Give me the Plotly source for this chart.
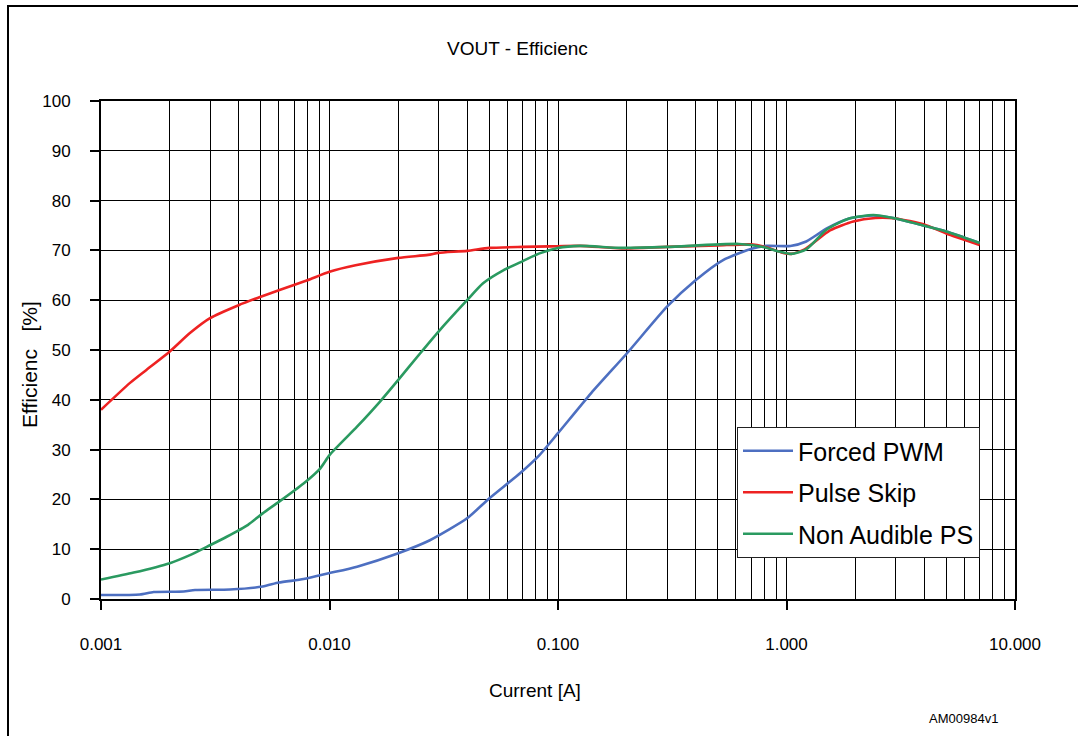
import plotly.graph_objects as go

# ---- data ----
pwm_x = [0.001, 0.00148, 0.0017, 0.0023, 0.00258, 0.00367, 0.0051, 0.006, 0.0077, 0.01,
         0.0132, 0.02, 0.0275, 0.04, 0.05, 0.068, 0.083, 0.1, 0.14, 0.2, 0.3, 0.4, 0.53,
         0.71, 0.82, 1.04, 1.22, 1.5, 1.88, 2.4, 2.93, 3.9, 5.0, 7.0]
pwm_y = [0.8, 0.9, 1.4, 1.5, 1.8, 1.9, 2.5, 3.3, 4.0, 5.2,
         6.5, 9.2, 11.8, 16.2, 20.2, 25.2, 28.9, 33.3, 41.4, 49.3, 58.7, 64.0, 68.1,
         70.4, 70.9, 70.9, 71.8, 74.4, 76.4, 77.0, 76.5, 75.1, 73.8, 71.5]

skip_x = [0.001, 0.00134, 0.00158, 0.002, 0.00245, 0.003, 0.004, 0.005, 0.006, 0.008,
          0.01, 0.013, 0.02, 0.027, 0.03, 0.04, 0.05, 0.07, 0.092, 0.125, 0.19, 0.3,
          0.5, 0.7, 0.82, 0.95, 1.05, 1.2, 1.55, 1.96, 2.45, 3.0, 4.0, 5.0, 7.0]
skip_y = [38.0, 43.4, 46.0, 49.7, 53.4, 56.4, 59.0, 60.7, 62.0, 64.0,
          65.7, 67.0, 68.5, 69.1, 69.5, 69.9, 70.5, 70.7, 70.8, 70.9, 70.4, 70.7,
          71.0, 71.2, 70.6, 69.6, 69.3, 70.2, 74.0, 75.8, 76.5, 76.4, 75.2, 73.4, 71.1]

naps_x = [0.001, 0.00139, 0.002, 0.00245, 0.003, 0.00355, 0.0044, 0.0051, 0.006, 0.0077,
          0.0091, 0.01, 0.0132, 0.0166, 0.02, 0.0249, 0.03, 0.04, 0.047, 0.0576, 0.0705,
          0.083, 0.1, 0.125, 0.19, 0.3, 0.62, 0.79, 0.92, 1.05, 1.22, 1.5, 1.88, 2.4,
          2.93, 3.9, 5.0, 7.0]
naps_y = [3.9, 5.3, 7.2, 8.8, 10.8, 12.5, 14.9, 17.2, 19.5, 23.2,
          26.2, 28.9, 34.6, 39.6, 44.0, 49.3, 53.7, 60.0, 63.4, 66.0, 67.9,
          69.4, 70.5, 70.9, 70.5, 70.7, 71.3, 70.7, 69.8, 69.3, 70.2, 74.2, 76.4, 77.1,
          76.5, 75.1, 73.8, 71.5]

series_names = ["Forced PWM", "Pulse Skip", "Non Audible PS"]
series_colors = ["#4d6fc1", "#ee2222", "#2a9a60"]

FONT = "Liberation Sans, Arial, sans-serif"

fig = go.Figure()
for name, xs, ys, col in zip(series_names, [pwm_x, skip_x, naps_x],
                             [pwm_y, skip_y, naps_y], series_colors):
    fig.add_trace(go.Scatter(x=xs, y=ys, mode="lines", name=name, legendgroup=name,
                             line=dict(color=col, width=2.6, shape="spline", smoothing=0.6)))

# plot area in pixels: x 101..1015, y 101..599
L, R, T, B = 101, 1015, 101, 599
W, H = 1078, 736
def px(xp):
    return (xp - L) / (R - L)
def py(yp):
    return (B - yp) / (B - T)

fig.update_layout(
    width=W, height=H,
    margin=dict(l=L, r=W - R, t=T, b=H - B),
    paper_bgcolor="white", plot_bgcolor="white",
    font=dict(family=FONT, color="black", size=16),
    showlegend=True,
    legend=dict(x=px(737), y=py(427), xanchor="left", yanchor="top",
                bgcolor="white", bordercolor="#222222", borderwidth=1,
                font=dict(size=25, family=FONT),
                traceorder="grouped", tracegroupgap=6, itemwidth=50),
    xaxis=dict(type="log", range=[-3, 1], dtick=1, tickformat=".3f",
               showgrid=True, gridcolor="black", gridwidth=1,
               ticks="outside", ticklen=9, tickcolor="black", tickwidth=1.5,
               showline=True, linecolor="black", linewidth=2, mirror=True,
               ticklabelstandoff=20,
               tickfont=dict(size=17, family=FONT),
               minor=dict(dtick="D1", showgrid=True, gridcolor="black", gridwidth=1, ticks=""),
               zeroline=False),
    yaxis=dict(range=[0, 100], dtick=10,
               showgrid=True, gridcolor="black", gridwidth=1,
               ticks="outside", ticklen=9, tickcolor="black", tickwidth=1.5,
               showline=True, linecolor="black", linewidth=2, mirror=True,
               ticklabelstandoff=16,
               tickfont=dict(size=17, family=FONT),
               zeroline=False),
)

fig.add_annotation(text="VOUT - Efficienc", xref="paper", yref="paper",
                   x=px(517), y=py(48), showarrow=False, font=dict(size=19, family=FONT),
                   xanchor="center", yanchor="middle")
fig.add_annotation(text="Current [A]", xref="paper", yref="paper",
                   x=px(535), y=py(690), showarrow=False, font=dict(size=19, family=FONT),
                   xanchor="center", yanchor="middle")
fig.add_annotation(text="Efficienc   [%]", xref="paper", yref="paper",
                   x=px(30), y=py(365), showarrow=False, textangle=-90,
                   font=dict(size=21, family=FONT), xanchor="center", yanchor="middle")
fig.add_annotation(text="AM00984v1", xref="paper", yref="paper",
                   x=px(1000), y=py(718), showarrow=False, font=dict(size=13, family=FONT),
                   xanchor="right", yanchor="middle")

# outer frame (left and top edges visible)
fig.add_shape(type="rect", xref="paper", yref="paper",
              x0=px(8), x1=px(1200), y0=py(900), y1=py(6),
              line=dict(color="black", width=2), fillcolor="rgba(0,0,0,0)", layer="below")

fig.write_html("out.html", config={"displayModeBar": False},
               post_script="document.body.style.margin='0px';")
